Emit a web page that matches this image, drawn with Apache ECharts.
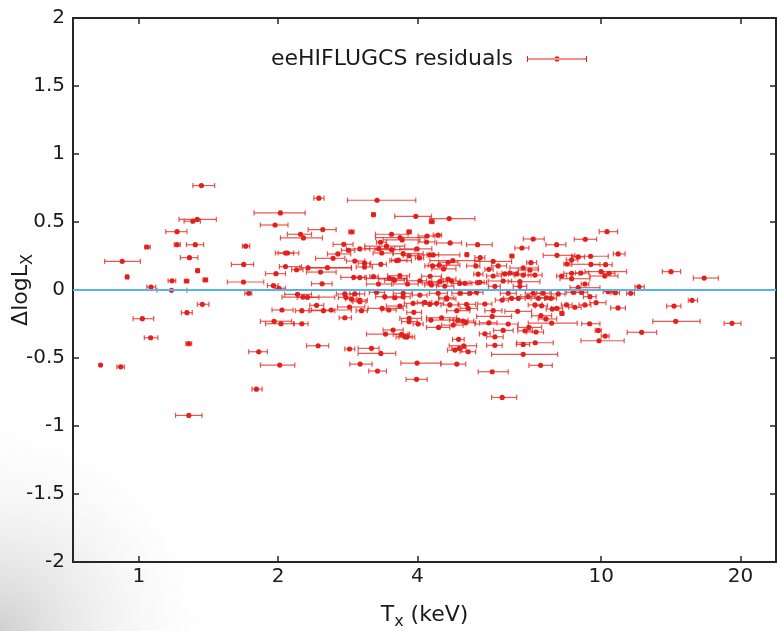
<!DOCTYPE html>
<html><head><meta charset="utf-8">
<script src="https://cdn.jsdelivr.net/npm/echarts@6/dist/echarts.min.js"></script>
<style>html,body{margin:0;padding:0;background:#fff}#c{width:777px;height:631px}</style>
</head><body><div id="c"></div>
<script>
// Temperature T_X (keV), residual Δlog L_X, and the T_X error range
const tx = [
1.365,1.337,1.308,1.209,1.041,1.209,1.324,1.702,0.920,1.286,
1.685,1.339,0.943,1.179,1.268,1.392,1.683,1.062,1.176,1.728,
1.371,1.270,1.017,1.060,1.281,1.816,0.826,0.913,1.282,2.450,
3.274,2.023,1.970,2.498,2.882,2.236,2.269,2.774,3.004,2.840,
2.095,2.075,2.693,2.630,2.930,2.075,2.192,2.322,2.557,2.470,
1.979,2.915,2.490,1.954,2.009,2.203,2.264,2.315,2.788,2.930,
2.802,2.882,3.004,2.422,2.854,2.039,2.251,2.507,2.604,3.030,
2.788,1.960,2.029,2.251,2.441,2.854,2.016,3.009,1.795,3.216,
3.970,4.689,4.301,3.841,3.518,3.672,3.710,4.201,4.438,4.189,
4.711,5.401,3.331,3.432,3.303,3.518,3.996,3.352,3.729,3.841,
4.258,4.330,4.044,5.121,3.607,3.641,4.775,4.665,3.076,3.076,
3.336,4.316,4.460,4.559,5.355,5.418,3.216,3.483,3.546,3.667,
3.571,3.297,3.811,4.051,4.265,4.258,4.294,4.476,4.588,4.665,
4.744,4.945,5.069,5.418,3.004,3.265,3.402,3.575,3.729,4.051,
4.438,4.629,4.945,5.198,3.004,3.729,3.918,4.153,4.258,4.403,
4.629,4.704,5.113,5.155,3.357,3.471,3.667,3.932,4.871,3.841,
3.841,4.017,4.280,4.514,4.903,5.027,5.092,4.784,4.447,3.546,
3.415,3.699,3.759,3.802,4.913,3.184,5.043,4.928,4.825,5.155,
3.336,3.996,4.871,3.281,3.985,7.126,9.236,6.736,8.008,8.021,
9.485,8.916,8.630,6.409,5.471,5.838,5.985,7.045,8.428,9.500,
5.714,6.780,7.010,5.838,6.188,6.345,6.563,6.780,7.188,8.210,
8.630,9.040,8.630,5.463,6.136,6.669,9.220,5.887,6.669,8.916,
5.375,6.292,7.126,7.491,8.073,8.699,9.071,6.399,6.951,7.308,
7.616,9.452,5.601,5.838,6.106,6.613,7.188,7.431,7.784,7.835,
8.008,8.414,8.771,9.220,6.593,5.810,7.405,8.222,7.590,5.714,
6.292,7.811,9.438,6.975,6.136,6.838,7.228,5.601,5.887,9.850,
9.890,7.198,6.780,5.887,6.780,7.394,5.810,6.106,10.29,10.88,
10.22,9.990,10.40,10.18,14.15,16.70,12.07,10.35,10.73,11.58,
15.72,9.745,14.37,10.87,14.49,19.18,12.23,10.20
];
const dlogL = [
0.768,0.520,0.506,0.429,0.316,0.333,0.333,0.322,0.211,0.238,
0.188,0.142,0.096,0.068,0.066,0.074,0.059,0.022,-0.002,-0.024,
-0.105,-0.167,-0.211,-0.351,-0.395,-0.454,-0.552,-0.565,-0.922,0.675,
0.660,0.567,0.478,0.444,0.427,0.410,0.383,0.336,0.302,0.292,
0.272,0.272,0.265,0.233,0.213,0.172,0.149,0.162,0.164,0.132,
0.120,0.093,0.046,0.032,0.013,-0.032,-0.052,-0.054,-0.029,-0.029,
-0.054,-0.066,-0.086,-0.113,-0.125,-0.147,-0.152,-0.152,-0.147,-0.152,
-0.204,-0.230,-0.248,-0.248,-0.410,-0.434,-0.552,-0.545,-0.729,0.554,
0.542,0.525,0.503,0.427,0.410,0.385,0.368,0.397,0.403,0.353,
0.346,0.333,0.351,0.322,0.304,0.297,0.302,0.272,0.267,0.252,
0.258,0.258,0.236,0.260,0.216,0.219,0.216,0.204,0.197,0.169,
0.189,0.177,0.182,0.155,0.177,0.116,0.098,0.086,0.081,0.105,
0.071,0.044,0.044,0.068,0.101,0.052,0.037,0.061,0.029,0.081,
0.066,0.049,0.049,0.054,0.091,-0.017,-0.049,-0.057,-0.024,-0.037,
-0.024,-0.057,-0.024,-0.024,-0.074,-0.049,-0.098,-0.091,-0.105,-0.098,
-0.066,-0.110,-0.105,-0.135,-0.135,-0.147,-0.118,-0.164,-0.152,-0.208,
-0.233,-0.250,-0.221,-0.204,-0.221,-0.228,-0.241,-0.258,-0.275,-0.294,
-0.324,-0.326,-0.344,-0.346,-0.363,-0.429,-0.410,-0.429,-0.442,-0.454,
-0.466,-0.537,-0.545,-0.596,-0.657,0.375,0.373,0.309,0.333,0.255,
0.248,0.243,0.221,0.250,0.238,0.211,0.177,0.201,0.191,0.189,
0.152,0.162,0.147,0.103,0.118,0.125,0.118,0.110,0.110,0.103,
0.123,0.125,0.083,0.057,0.066,0.061,0.044,0.027,0.027,0.017,
-0.017,-0.024,-0.024,-0.024,-0.029,-0.017,-0.017,-0.061,-0.049,-0.061,
-0.057,-0.049,-0.103,-0.152,-0.074,-0.061,-0.110,-0.116,-0.061,-0.140,
-0.135,-0.110,-0.127,-0.110,-0.157,-0.194,-0.189,-0.172,-0.213,-0.241,
-0.250,-0.243,-0.248,-0.275,-0.297,-0.300,-0.309,-0.322,-0.344,-0.297,
-0.373,-0.388,-0.400,-0.407,-0.473,-0.554,-0.601,-0.790,0.429,0.265,
0.186,0.135,0.123,0.103,0.135,0.088,0.024,-0.012,-0.020,-0.024,
-0.076,-0.093,-0.118,-0.132,-0.230,-0.245,-0.311,-0.339
];
const txLo = [
1.308,1.221,1.252,1.143,1.029,1.192,1.267,1.674,0.843,1.229,
1.585,1.330,0.937,1.156,1.254,1.376,1.553,1.040,1.094,1.694,
1.337,1.235,0.971,1.027,1.263,1.727,0.826,0.896,1.200,2.389,
2.825,1.774,1.831,2.322,2.844,2.095,2.023,2.630,2.811,2.742,
1.973,2.000,2.557,2.410,2.811,2.013,2.139,2.228,2.322,2.304,
1.878,2.733,2.362,1.896,1.966,2.067,2.039,2.200,2.675,2.860,
2.700,2.800,2.900,2.342,2.689,1.940,2.181,2.342,2.362,2.950,
2.711,1.831,1.878,2.159,2.304,2.788,1.831,2.858,1.756,3.190,
3.575,4.258,4.250,3.800,3.249,3.249,3.374,4.017,4.330,4.017,
4.403,5.113,3.265,3.080,3.080,3.238,3.667,3.210,3.546,3.729,
4.017,4.200,3.960,5.080,3.488,3.520,4.258,4.450,2.980,2.950,
3.157,4.153,4.222,4.300,5.113,5.300,3.157,3.106,3.300,3.450,
3.400,3.106,3.546,3.795,4.086,4.100,4.150,4.300,4.400,4.500,
4.550,4.750,4.900,5.200,2.900,3.150,3.250,3.400,3.550,3.900,
4.250,4.450,4.750,5.000,2.880,3.600,3.750,4.000,4.120,4.250,
4.450,4.500,4.900,4.950,3.131,3.350,3.431,3.795,4.629,3.667,
3.700,3.918,4.189,4.189,4.700,4.800,4.850,4.514,4.189,3.374,
3.106,3.550,3.600,3.650,4.768,2.979,4.689,4.750,4.650,4.950,
2.979,3.686,4.499,3.141,3.782,6.780,8.743,6.504,7.590,7.491,
8.630,8.650,8.400,6.350,5.328,5.328,5.792,6.897,8.300,8.630,
5.601,6.345,6.613,5.649,5.950,6.100,6.300,6.500,6.950,8.008,
8.300,8.800,8.141,5.350,5.695,6.292,9.050,5.700,6.450,8.557,
5.200,6.050,6.850,7.250,7.800,8.400,8.800,6.150,6.700,7.050,
7.350,9.150,5.400,5.600,5.900,6.400,6.950,7.200,7.550,7.600,
7.800,8.200,8.500,8.950,6.188,5.375,7.070,8.150,7.308,5.450,
5.328,6.951,9.071,6.593,5.850,6.600,6.900,5.450,5.649,9.700,
9.040,6.563,6.550,5.649,5.791,6.975,5.418,5.792,9.900,10.62,
9.452,9.220,10.10,9.452,13.56,15.82,11.83,10.10,10.50,11.35,
15.43,9.450,13.85,10.48,12.93,18.44,11.38,10.00
];
const txHi = [
1.458,1.470,1.358,1.270,1.058,1.229,1.380,1.736,1.007,1.341,
1.771,1.350,0.949,1.201,1.282,1.408,1.862,1.087,1.270,1.754,
1.417,1.304,1.076,1.099,1.300,1.896,0.826,0.930,1.369,2.514,
3.970,2.288,2.101,2.670,2.920,2.362,2.494,2.905,3.157,2.930,
2.217,2.160,2.872,2.788,3.080,2.247,2.264,2.882,2.882,2.670,
2.075,3.080,2.617,2.000,2.075,2.362,2.652,2.450,3.080,3.000,
2.900,2.960,3.100,2.510,3.080,2.155,2.331,2.652,2.882,3.120,
2.882,2.139,2.168,2.322,2.573,2.930,2.173,3.194,1.847,3.240,
4.294,5.328,4.350,3.880,3.821,4.153,4.051,4.366,4.514,4.366,
4.987,5.810,3.431,3.759,3.575,3.951,4.301,3.546,4.119,4.017,
4.945,4.450,4.130,5.160,3.886,3.800,5.463,4.900,3.170,3.200,
3.431,4.629,4.945,4.850,5.463,5.550,3.292,3.795,3.800,3.850,
3.750,3.518,4.017,4.189,4.514,4.420,4.450,4.650,4.800,4.850,
4.950,5.150,5.250,5.650,3.100,3.400,3.550,3.750,3.900,4.200,
4.650,4.800,5.150,5.400,3.120,3.860,4.100,4.300,4.400,4.560,
4.850,4.920,5.350,5.400,3.729,3.600,3.795,4.086,5.198,4.086,
4.000,4.119,4.784,4.863,5.150,5.300,5.350,5.027,4.704,3.729,
3.821,3.850,3.900,3.950,5.053,3.307,5.373,5.100,5.000,5.350,
3.593,4.499,5.092,3.431,4.201,7.528,9.774,6.975,8.386,8.771,
10.356,9.200,8.900,6.470,5.601,6.399,6.242,7.248,8.560,9.936,
5.838,7.308,7.308,6.087,6.450,6.600,6.850,7.050,7.450,8.414,
8.950,9.400,9.452,5.580,6.399,7.368,9.400,6.050,6.900,9.936,
5.550,6.550,7.400,7.750,8.350,9.000,9.350,6.650,7.200,7.550,
7.900,9.750,5.800,6.100,6.300,6.850,7.450,7.650,8.000,8.100,
8.250,8.650,9.050,9.500,7.070,6.399,7.811,8.300,8.008,5.950,
6.613,8.873,9.936,7.431,6.450,7.100,7.500,5.750,6.136,10.00,
11.21,7.874,7.000,6.106,8.049,7.835,6.292,6.563,10.85,11.26,
10.56,11.35,10.71,10.87,14.85,17.92,12.39,10.60,10.95,11.80,
16.16,10.24,14.87,11.28,16.37,20.06,13.18,10.40
];
const xTickValues = [1, 2, 4, 10, 20];
const xRange = [0.72, 23.88];
const yRange = [-2, 2];
const yStep = 0.5;
const zeroLevel = 0;
const seriesName = 'eeHIFLUGCS residuals';

const RED = '#e3201b';
const BLUE = '#56b4e9';
const INK = '#1a1a1a';
const FONT = 'DejaVu Sans';

const chart = echarts.init(document.getElementById('c'));
const data = tx.map((t, i) => [t, dlogL[i], txLo[i], txHi[i]]);

function renderItem(params, api) {
  const y = api.value(1);
  const c = api.coord([api.value(0), y]);
  const l = api.coord([api.value(2), y]);
  const r = api.coord([api.value(3), y]);
  const h = 2.6;
  const ls = { stroke: RED, lineWidth: 1.2, opacity: 0.75 };
  const children = [];
  if (r[0] - l[0] > 0.5) {
    children.push({ type: 'line', shape: { x1: l[0], y1: l[1], x2: r[0], y2: r[1] }, style: ls });
    children.push({ type: 'line', shape: { x1: l[0], y1: l[1] - h, x2: l[0], y2: l[1] + h }, style: ls });
    children.push({ type: 'line', shape: { x1: r[0], y1: r[1] - h, x2: r[0], y2: r[1] + h }, style: ls });
  }
  children.push({ type: 'circle', shape: { cx: c[0], cy: c[1], r: 2.6 }, style: { fill: RED } });
  return { type: 'group', children };
}

const ICON = 'path://M0,2.9h60v1h-60z M0,0.5h1v6h-1z M59,0.5h1v6h-1z M27.4,3.4a2.6,2.6 0 1,0 5.2,0a2.6,2.6 0 1,0 -5.2,0z';

const tickStyle = { color: '#262626', width: 1.5 };
const baseX = {
  type: 'log', logBase: 10, min: xRange[0], max: xRange[1],
  axisLine: { show: false, onZero: false }, splitLine: { show: false }, minorTick: { show: false },
  axisTick: { inside: true, length: 6, customValues: xTickValues, lineStyle: tickStyle }
};
const baseY = {
  type: 'value', min: yRange[0], max: yRange[1], interval: yStep,
  axisLine: { show: false, onZero: false }, splitLine: { show: false },
  axisTick: { inside: true, length: 6, lineStyle: tickStyle }
};

chart.setOption({
  animation: false,
  graphic: [{
    type: 'rect', z: -1, silent: true,
    shape: { x: 0, y: 0, width: 777, height: 631 },
    style: { fill: new echarts.graphic.RadialGradient(0, 1, 0.37, [
      { offset: 0, color: 'rgba(200,200,200,0.85)' },
      { offset: 1, color: 'rgba(255,255,255,0)' }
    ]) }
  }],
  grid: { left: 73, right: 1, top: 18, bottom: 69, show: true, containLabel: false, outerBoundsMode: 'none',
          borderColor: '#262626', borderWidth: 2, backgroundColor: 'transparent' },
  legend: {
    data: [{ name: seriesName, icon: ICON }],
    left: 266, top: 43, align: 'right',
    itemWidth: 60, itemHeight: 6.5,
    textStyle: { fontSize: 22, fontFamily: FONT, color: INK, padding: [0, 9, 0, 0] }
  },
  xAxis: [
    Object.assign({}, baseX, {
      position: 'bottom',
      axisLabel: { customValues: xTickValues, formatter: v => String(v), fontSize: 20, fontFamily: FONT, color: INK, margin: 5 },
      name: '{a|T}{b|x}{a| (keV)}', nameLocation: 'middle', nameGap: 38,
      nameTextStyle: { rich: {
        a: { fontSize: 22, fontFamily: FONT, color: INK, lineHeight: 30 },
        b: { fontSize: 16, fontFamily: FONT, color: INK, lineHeight: 18, verticalAlign: 'bottom' }
      } }
    }),
    Object.assign({}, baseX, { position: 'top', axisLabel: { show: false } })
  ],
  yAxis: [
    Object.assign({}, baseY, {
      position: 'left',
      axisLabel: { fontSize: 20, fontFamily: FONT, color: INK, margin: 8 },
      name: '{a|ΔlogL}{b|X}', nameLocation: 'middle', nameGap: 37, nameMoveOverlap: false,
      nameTextStyle: { rich: {
        a: { fontSize: 22, fontFamily: FONT, color: INK, lineHeight: 30 },
        b: { fontSize: 16, fontFamily: FONT, color: INK, lineHeight: 18, verticalAlign: 'bottom' }
      } }
    }),
    Object.assign({}, baseY, { position: 'right', axisLabel: { show: false } })
  ],
  series: [{
    type: 'custom', name: seriesName,
    renderItem: renderItem,
    itemStyle: { color: RED },
    encode: { x: [0, 2, 3], y: 1 },
    data: data,
    markLine: {
      silent: true, symbol: 'none', label: { show: false },
      lineStyle: { color: BLUE, width: 2, type: 'solid' },
      data: [{ yAxis: zeroLevel }]
    }
  }]
});
</script>
</body></html>
